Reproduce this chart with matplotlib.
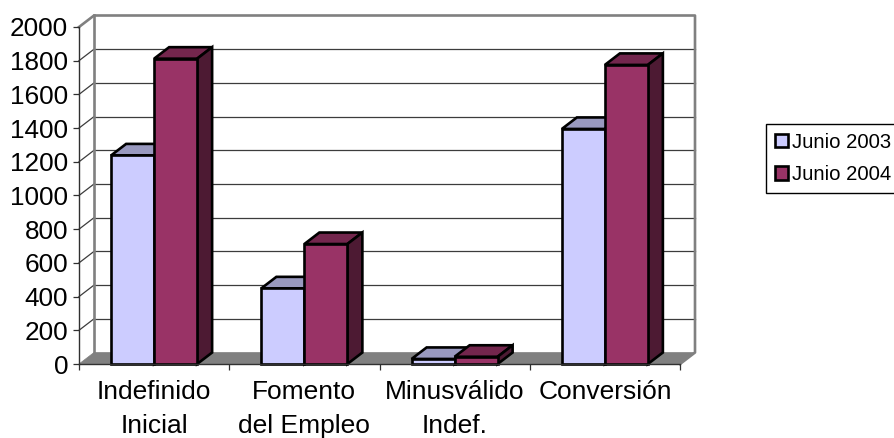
import matplotlib
matplotlib.use("Agg")
import matplotlib.pyplot as plt
from matplotlib.patches import Polygon, Rectangle

categories = ["Indefinido\nInicial", "Fomento\ndel Empleo", "Minusválido\nIndef.", "Conversión"]
junio_2003 = [1238, 449, 30, 1395]
junio_2004 = [1812, 712, 43, 1775]
y_ticks = list(range(0, 2001, 200))

W, H = 894, 438
L, R, B, T = 79, 680, 364, 27
plt.rcParams["font.family"] = ["Liberation Sans", "DejaVu Sans"]

fig = plt.figure(figsize=(W / 100, H / 100), dpi=100)
ax = fig.add_axes([L / W, 1 - B / H, (R - L) / W, (B - T) / H])
n = len(categories)
ax.set_xlim(0, n)
ax.set_ylim(0, 2000)

dx = 15 / ((R - L) / n)          # depth in category units
dy = 11.5 / ((B - T) / 2000)     # depth in value units
bw = 43 / ((R - L) / n)
EDGE = "black"
GRID = "#3c3c3c"
WALL = "#808080"
clip = dict(clip_on=False)

# floor
ax.add_patch(Polygon([(0, 0), (n, 0), (n + dx, dy), (dx, dy)], fc=WALL, ec=WALL, lw=0.5, zorder=1, **clip))
# back wall grid lines and left wall slants
for v in y_ticks[1:-1]:
    ax.plot([dx, n + dx], [v + dy, v + dy], color=GRID, lw=0.9, zorder=1, **clip)
    ax.plot([0, dx], [v, v + dy], color=GRID, lw=0.9, zorder=1, **clip)
# wall frame
ax.plot([0, dx, n + dx, n + dx, n], [2000, 2000 + dy, 2000 + dy, dy, 0], color=WALL, lw=1.9, zorder=1.5, **clip)
ax.plot([dx, dx], [dy, 2000 + dy], color=WALL, lw=1.9, zorder=1.5, **clip)


def bars(values, x0, face, top, side, z):
    rects = ax.bar([i + 0.5 + x0 for i in range(n)], values, width=bw, align="edge",
                   color=face, edgecolor=EDGE, linewidth=1.9, zorder=z + 0.2, clip_on=False)
    for r, v in zip(rects, values):
        x = r.get_x()
        ax.add_patch(Polygon([(x, v), (x + bw, v), (x + bw + dx, v + dy), (x + dx, v + dy)],
                             fc=top, ec=EDGE, lw=1.9, joinstyle="miter", zorder=z, **clip))
        ax.add_patch(Polygon([(x + bw, 0), (x + bw + dx, dy), (x + bw + dx, v + dy), (x + bw, v)],
                             fc=side, ec=EDGE, lw=1.9, joinstyle="miter", zorder=z, **clip))
    return rects


b1 = bars(junio_2003, -bw, "#CCCCFF", "#9999BF", "#66667F", 3)
b2 = bars(junio_2004, 0, "#993366", "#73264D", "#4D1A33", 4)

# axes
for s in ("top", "right"):
    ax.spines[s].set_visible(False)
for s in ("left", "bottom"):
    ax.spines[s].set_color("#303030")
    ax.spines[s].set_linewidth(1.0)
    ax.spines[s].set_zorder(2)
ax.spines["bottom"].set_zorder(6)
ax.set_yticks(y_ticks)
ax.tick_params(axis="y", length=4.3, width=0.9, color="#303030", labelsize=18.8, pad=3.5)
ax.set_xticks(range(n + 1))
ax.set_xticklabels([])
ax.tick_params(axis="x", which="major", length=4.3, width=0.9, color="#303030")
ax.set_xticks([i + 0.5 for i in range(n)], minor=True)
ax.set_xticklabels(categories, minor=True, fontsize=19, linespacing=1.55)
ax.tick_params(axis="x", which="minor", length=0, pad=11.5)

# legend
leg = ax.legend([b1, b2], ["Junio 2003", "Junio 2004"],
                loc="upper left", bbox_to_anchor=(766 / W, 1 - 124 / H), bbox_transform=fig.transFigure,
                borderaxespad=0, fontsize=14.6, fancybox=False, framealpha=1, edgecolor="black",
                handlelength=0.67, handleheight=0.67, handletextpad=0.2,
                labelspacing=0.67, borderpad=0.42)
leg.get_frame().set_linewidth(1.0)
for h in leg.legend_handles:
    h.set_linewidth(1.9)

fig.savefig("out.png", dpi=100)
